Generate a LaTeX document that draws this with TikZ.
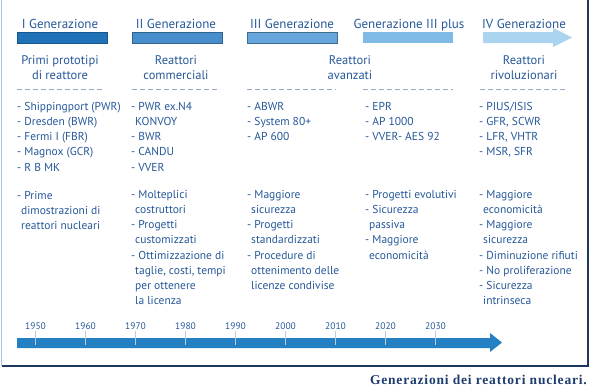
\documentclass[tikz,border=0pt]{standalone}
\usepackage{fontspec}
\setmainfont{PT Sans}
\newfontfamily\captionfont[LetterSpace=6]{Liberation Serif}
\definecolor{genblue}{RGB}{38,88,152}
\definecolor{capblue}{RGB}{30,60,110}
\definecolor{barone}{RGB}{31,114,184}
\definecolor{bartwo}{RGB}{72,142,205}
\definecolor{barthree}{RGB}{102,166,220}
\definecolor{barfour}{RGB}{128,187,230}
\definecolor{barfive}{RGB}{170,212,240}
\definecolor{timeblue}{RGB}{35,128,195}
\definecolor{sepgray}{RGB}{150,170,195}
\definecolor{framenavy}{RGB}{30,55,95}
\definecolor{framelight}{RGB}{170,195,215}
\newcommand\hang{\hspace*{4pt}}
\begin{document}
\begin{tikzpicture}[x=1pt,y=-1pt,
    gentitle/.style={anchor=base,inner sep=0pt,text=genblue,font=\fontsize{13}{15}\selectfont},
    gensub/.style={anchor=north,align=center,inner sep=0pt,text=genblue,font=\fontsize{12.5}{15.5}\selectfont},
    genlist/.style={anchor=north west,align=left,inner sep=0pt,text=genblue,font=\fontsize{11.5}{15.2}\selectfont},
    yearlab/.style={anchor=base,inner sep=0pt,text=genblue,font=\fontsize{9.5}{11}\selectfont},
    sepline/.style={draw=sepgray,line width=0.6pt,dash pattern=on 5pt off 3pt}]
    \useasboundingbox (0,0) rectangle (591,391);

    % Frame %
    \draw[framelight,line width=1.5pt] (1.5,0) -- (1.5,366);
    \draw[framenavy,line width=1.2pt] (1.5,366) -- (588,366) -- (588,0);

    % Generation bars %
    \filldraw[fill=barone,draw=barone!75!black,line width=0.6pt] (17,32) rectangle (107,43);
    \filldraw[fill=bartwo,draw=bartwo!70!black,line width=0.6pt] (132,32) rectangle (222,43);
    \filldraw[fill=barthree,draw=barthree!65!black,line width=0.6pt] (247,32) rectangle (337,43);
    \fill[barfour] (363,32) rectangle (453,43);
    \fill[barfive] (483,32) -- (553,32) -- (553,28) -- (572,37.5) -- (553,47) -- (553,43) -- (483,43) -- cycle;

    % Titles %
    \node[gentitle] (gen1) at (60,28) {I Generazione};
    \node[gentitle] (gen2) at (176,28) {II Generazione};
    \node[gentitle] (gen3) at (292,28) {III Generazione};
    \node[gentitle] (gen4) at (409,28) {Generazione III plus};
    \node[gentitle] (gen5) at (524,28) {IV Generazione};

    \node[gensub] (sub1) at (60,55) {Primi prototipi\\di reattore};
    \node[gensub] (sub2) at (176,55) {Reattori\\commerciali};
    \node[gensub] (sub3) at (350,55) {Reattori\\avanzati};
    \node[gensub] (sub5) at (524,55) {Reattori\\rivoluzionari};

    % Separators %
    \foreach \xa/\xb in {17/105,132/220,247/336,363/453,480/568}
        \draw[sepline] (\xa,89) -- (\xb,89);

    % Reactors %
    \node[genlist] (type1) at (17,102) {- Shippingport (PWR)\\- Dresden (BWR)\\- Fermi I (FBR)\\- Magnox (GCR)\\- R B MK};
    \node[genlist] (type2) at (131,102) {- PWR ex.N4\\\hang KONVOY\\- BWR\\- CANDU\\- VVER};
    \node[genlist] (type3) at (247,102) {- ABWR\\- System 80+\\- AP 600};
    \node[genlist] (type4) at (365,102) {- EPR\\- AP 1000\\- VVER- AES 92};
    \node[genlist] (type5) at (479,102) {- PIUS/ISIS\\- GFR, SCWR\\- LFR, VHTR\\- MSR, SFR};

    % Features %
    \node[genlist] (feat1) at (17,191) {- Prime\\\hang dimostrazioni di\\\hang reattori nucleari};
    \node[genlist] (feat2) at (131,190) {- Molteplici\\\hang costruttori\\- Progetti\\\hang customizzati\\- Ottimizzazione di\\\hang taglie, costi, tempi\\\hang per ottenere\\\hang la licenza};
    \node[genlist] (feat3) at (247,190) {- Maggiore\\\hang sicurezza\\- Progetti\\\hang standardizzati\\- Procedure di\\\hang ottenimento delle\\\hang licenze condivise};
    \node[genlist] (feat4) at (365,190) {- Progetti evolutivi\\- Sicurezza\\\hang passiva\\- Maggiore\\\hang economicità};
    \node[genlist] (feat5) at (479,190) {- Maggiore\\\hang economicità\\- Maggiore\\\hang sicurezza\\- Diminuzione rifiuti\\- No proliferazione\\- Sicurezza\\\hang intrinseca};

    % Timeline %
    \fill[timeblue] (17,338) -- (490,338) -- (490,333) -- (502,342.5) -- (490,352) -- (490,348) -- (17,348) -- cycle;
    \foreach \yr [count=\i from 0] in {1950,1960,...,2030} {
        \draw[sepgray!60,line width=0.5pt] (35.5+50*\i,331) -- (35.5+50*\i,345);
        \node[yearlab] (y\yr) at (35.5+50*\i,329) {\yr};
    }

    % Caption %
    \node[anchor=base east,inner sep=0pt,text=capblue,font={\captionfont\bfseries\fontsize{13.5}{15}\selectfont}] (caption) at (587,384) {Generazioni dei reattori nucleari.};
\end{tikzpicture}
\end{document}
